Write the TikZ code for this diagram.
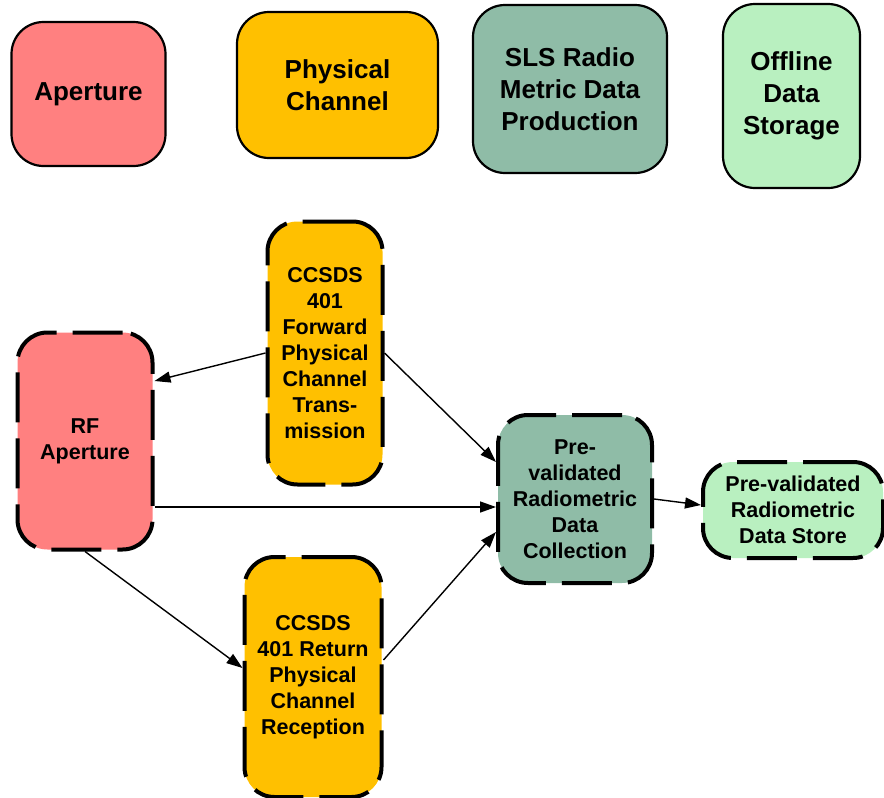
\documentclass[tikz,border=0pt]{standalone}
\usepackage{fontspec}
\setmainfont{Liberation Sans}
\usetikzlibrary{arrows.meta,positioning}
\definecolor{aperturered}{RGB}{255,128,128}
\definecolor{channelgold}{RGB}{255,192,0}
\definecolor{slsgreen}{RGB}{143,188,167}
\definecolor{storegreen}{RGB}{185,240,192}

\begin{document}
\begin{tikzpicture}[x=1pt,y=-1pt]
\tikzset{
  legendnode/.style={rounded corners=32pt,draw,line width=2.2pt,align=center,inner sep=2pt,
    font=\fontsize{26}{32}\selectfont\bfseries},
  procnode/.style={rounded corners=30pt,draw,line width=4pt,dash pattern=on 50pt off 16pt,
    align=center,inner sep=2pt,font=\fontsize{21.5}{26}\selectfont\bfseries},
  flow/.style={-{Triangle[length=16pt,width=11pt]},line width=1.4pt}
}
\useasboundingbox (0,0) rectangle (884,798);
% legend
\node[legendnode,fill=aperturered,minimum width=154pt,minimum height=144pt] (n_aperture) at (88.5,94) {Aperture};
\node[legendnode,fill=channelgold,minimum width=201pt,minimum height=146pt] (n_channel) at (337.5,85) {Physical\\Channel};
\node[legendnode,fill=slsgreen,minimum width=194pt,minimum height=168pt] (n_sls) at (570,89) {SLS Radio\\Metric Data\\Production};
\node[legendnode,fill=storegreen,minimum width=137pt,minimum height=184pt] (n_offline) at (791.5,96) {Offline\\Data\\Storage};
% processes
\node[procnode,fill=aperturered,minimum width=135pt,minimum height=217pt] (n_rf) at (85,441) {RF\\Aperture};
\node[procnode,fill=channelgold,minimum width=115pt,minimum height=263pt] (n_fwd) at (325,353) {CCSDS\\401\\Forward\\Physical\\Channel\\Trans-\\mission};
\node[procnode,fill=channelgold,minimum width=137pt,minimum height=240pt] (n_ret) at (313,677) {CCSDS\\401 Return\\Physical\\Channel\\Reception};
\node[procnode,fill=slsgreen,minimum width=154pt,minimum height=168pt] (n_coll) at (575,499) {Pre-\\validated\\Radiometric\\Data\\Collection};
\node[procnode,fill=storegreen,minimum width=180pt,minimum height=96pt] (n_store) at (793,510) {Pre-validated\\Radiometric\\Data Store};
% flows
\draw[flow] (n_fwd.west) -- ([yshift=60pt]n_rf.east);
\draw[flow] (n_fwd.east) -- ([yshift=37pt]n_coll.west);
\draw[flow] ([yshift=-66pt]n_rf.east) -- ([yshift=-66pt]n_rf.east -| n_coll.west);
\draw[flow] (n_rf.south) -- ([yshift=9pt]n_ret.west);
\draw[flow] ([yshift=17pt]n_ret.east) -- ([yshift=-33pt]n_coll.west);
\draw[flow] (n_coll.east) -- ([yshift=5pt]n_store.west);
\end{tikzpicture}
\end{document}
